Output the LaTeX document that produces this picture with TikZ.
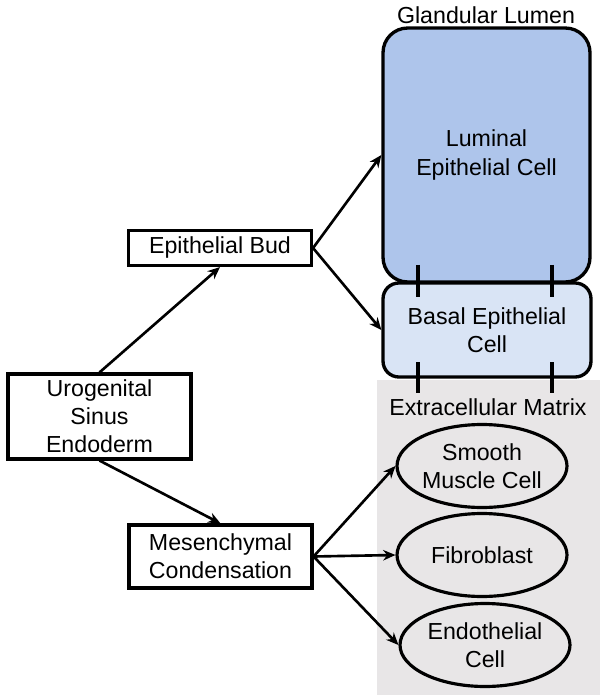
\documentclass[tikz,border=0pt]{standalone}
\usepackage{fontspec}
\setmainfont{Liberation Sans}
\usepackage{tikz}
\usetikzlibrary{arrows.meta,shapes.geometric}

\definecolor{lumblue}{HTML}{AEC5EB}
\definecolor{basblue}{HTML}{D9E4F5}
\definecolor{ecmgray}{HTML}{E8E6E7}

\begin{document}
\begin{tikzpicture}[x=0.02cm, y=-0.02cm,
    every node/.style={font=\fontsize{13.2}{16}\selectfont, align=center},
    tissue/.style={draw, line width=1.8pt, minimum width=3.66cm},
    cell/.style={draw, line width=1.8pt, ellipse, inner sep=0pt,
        minimum width=3.4cm, minimum height=1.66cm},
    arrow/.style={-{Stealth[length=7pt, width=6pt]}, line width=1.5pt},
    tick/.style={line width=1.8pt}]
    \useasboundingbox (0,0) rectangle (600,695);

    % Extracellular matrix background
    \fill[ecmgray] (377,380) rectangle (600,695);
    \node (ecm) at (488,407) {Extracellular Matrix};
    \node (lumen) at (486,15) {Glandular Lumen};

    % Epithelial cells
    \node[draw, fill=lumblue, line width=1.9pt, rounded corners=14pt,
        minimum width=4.14cm, minimum height=5.08cm] (lum) at (486.5,155)
        {Luminal\\Epithelial Cell};
    \node[draw, fill=basblue, line width=1.9pt, rounded corners=9pt,
        minimum width=4.16cm, minimum height=1.88cm] (bas) at (487,330)
        {Basal Epithelial\\Cell};

    \draw[tick] (418,265) -- (418,297);
    \draw[tick] (552,265) -- (552,297);
    \draw[tick] (418,362) -- (418,393);
    \draw[tick] (552,362) -- (552,393);

    % Stromal cells
    \node[cell] (smc) at (482,466) {Smooth\\Muscle Cell};
    \node[cell] (fib) at (482,555) {Fibroblast};
    \node[cell] (endo) at (485,645) {Endothelial\\Cell};

    % Lineage boxes
    \node[tissue, minimum height=1.7cm] (uro) at (99.5,416.5) {Urogenital\\Sinus\\Endoderm};
    \node[tissue, minimum height=0.7cm] (bud) at (220,248) {Epithelial Bud};
    \node[tissue, minimum height=1.26cm] (mes) at (220.5,556.5) {Mesenchymal\\Condensation};

    \draw[arrow] (uro.north) -- (bud.south);
    \draw[arrow] (uro.south) -- (mes.north);
    \draw[arrow] (bud.east) -- (lum.west);
    \draw[arrow] (bud.east) -- (bas.west);
    \draw[arrow] (mes.east) -- (smc.west);
    \draw[arrow] (mes.east) -- (fib.west);
    \draw[arrow] (mes.east) -- (endo.west);

\end{tikzpicture}
\end{document}
